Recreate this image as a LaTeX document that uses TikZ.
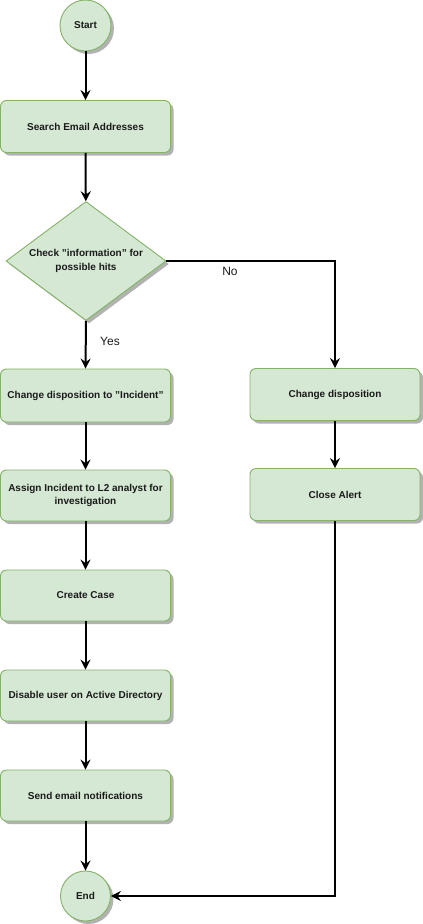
\documentclass[tikz,border=0pt]{standalone}
\usepackage{fontspec}
\setmainfont{Liberation Sans}
\usetikzlibrary{shapes.geometric,arrows.meta,shadows}
\definecolor{gfill}{HTML}{D5E8D4}
\definecolor{gline}{HTML}{82B366}
\definecolor{txt}{HTML}{1A1A1A}
\tikzset{
  shd/.style={drop shadow={shadow xshift=3pt,shadow yshift=-3pt,fill=black!30,opacity=1}},
  procbox/.style={draw=gline,fill=gfill,line width=0.9pt,rounded corners=6pt,minimum width=170pt,minimum height=52pt,inner sep=2pt,align=center,font=\fontsize{10}{13}\selectfont\bfseries,text=txt,shd},
  termnode/.style={draw=gline,fill=gfill,line width=0.9pt,circle,minimum size=51pt,inner sep=0pt,font=\fontsize{10}{12}\selectfont\bfseries,text=txt,shd},
  decnode/.style={draw=gline,fill=gfill,line width=0.9pt,diamond,minimum width=160pt,minimum height=119pt,inner sep=0pt,shd},
  dectxt/.style={align=center,font=\fontsize{10}{14}\selectfont\bfseries,text=txt},
  conn/.style={line width=2pt,-{Stealth[length=10pt,width=10pt,inset=3.5pt]}},
  lbl/.style={font=\fontsize{12}{14}\selectfont,text=txt}
}
\begin{document}
\begin{tikzpicture}[x=1pt,y=-1pt]
\useasboundingbox (0,0) rectangle (423,924);
\node[termnode] (start) at (85.5,25.5) {Start};
\node[procbox] (search) at (85.5,126.5) {Search Email Addresses};
\node[decnode] (dec) at (86,261) {};
\node[dectxt] (dect) at (dec.center) {Check "information" for\\possible hits};
\node[procbox,minimum height=53pt] (inc) at (85.5,395.5) {Change disposition to "Incident"};
\node[procbox] (chg) at (335,394.5) {Change disposition};
\node[procbox,minimum height=51pt] (assign) at (85.5,495.5) {Assign Incident to L2 analyst for\\investigation};
\node[procbox] (close) at (335,494.5) {Close Alert};
\node[procbox,minimum height=51pt] (case) at (85.5,595.5) {Create Case};
\node[procbox,minimum height=51pt] (dis) at (85.5,695.5) {Disable user on Active Directory};
\node[procbox,minimum height=51pt] (send) at (85.5,795.5) {Send email notifications};
\node[termnode,minimum size=50pt] (end) at (85.5,896) {End};
\draw[conn] (start) -- (search);
\draw[conn] (search) -- (dec);
\draw[conn] (dec.east) -| (chg.north);
\node[lbl] (no) at (230,271) {No};
\draw[conn] (dec.south) -- (inc.north);
\node[lbl] (yes) at (110,341) {Yes};
\draw[conn] (inc) -- (assign);
\draw[conn] (assign) -- (case);
\draw[conn] (case) -- (dis);
\draw[conn] (dis) -- (send);
\draw[conn] (send) -- (end);
\draw[conn] (chg) -- (close);
\draw[conn] (close.south) |- (end.east);
\end{tikzpicture}
\end{document}
